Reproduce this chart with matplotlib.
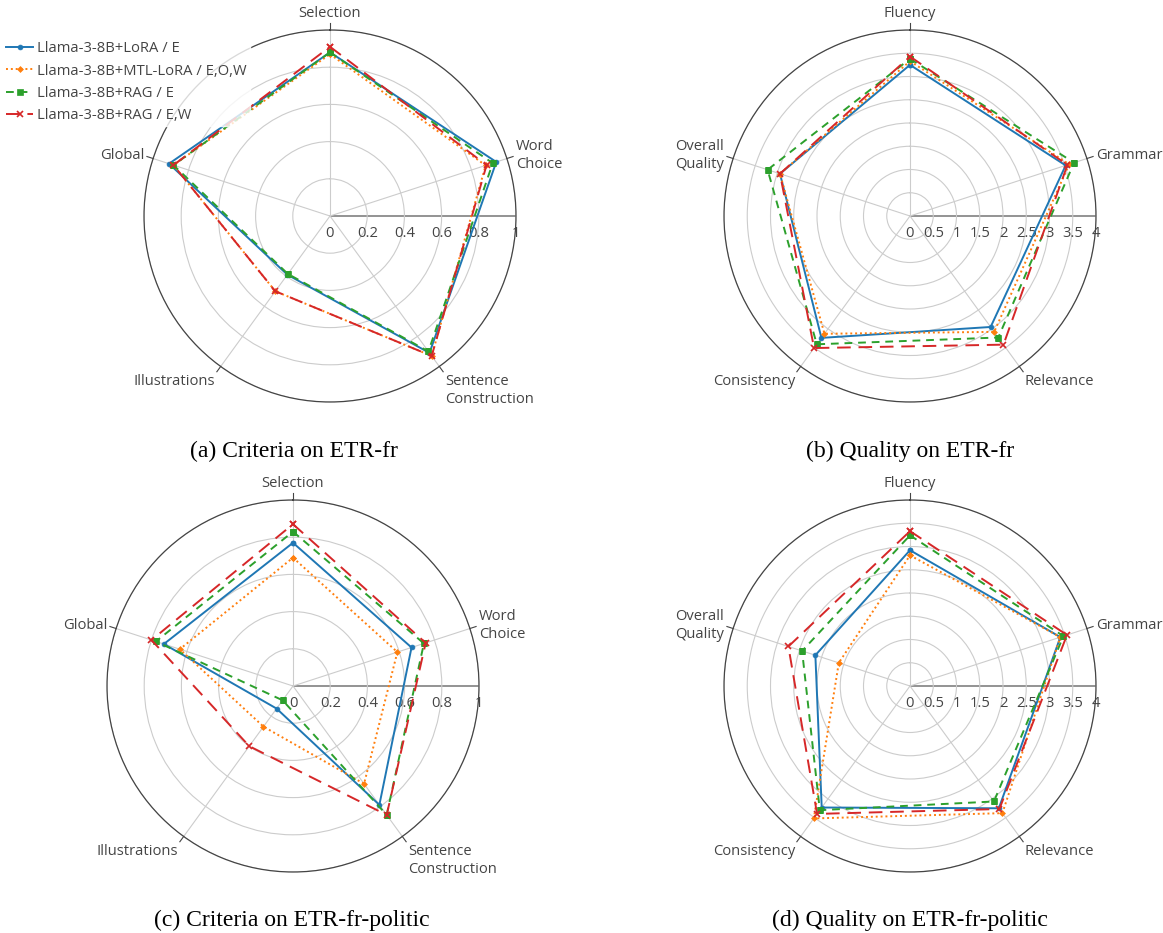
import numpy as np
import matplotlib.pyplot as plt

plt.rcParams['font.family'] = ['Open Sans', 'DejaVu Sans']

# data
models = ['Llama-3-8B+LoRA / E', 'Llama-3-8B+MTL-LoRA / E,O,W',
          'Llama-3-8B+RAG / E', 'Llama-3-8B+RAG / E,W']
criteria = ['Selection', 'Word\nChoice', 'Sentence\nConstruction', 'Illustrations', 'Global']
quality = ['Fluency', 'Grammar', 'Relevance', 'Consistency', 'Overall\nQuality']

crit_fr = [
    [0.88, 0.94, 0.91, 0.39, 0.91],
    [0.87, 0.88, 0.93, 0.50, 0.885],
    [0.88, 0.92, 0.90, 0.385, 0.885],
    [0.91, 0.885, 0.93, 0.50, 0.885],
]
qual_fr = [
    [3.25, 3.52, 2.95, 3.24, 2.94],
    [3.33, 3.60, 3.08, 3.13, 2.94],
    [3.38, 3.71, 3.23, 3.41, 3.22],
    [3.43, 3.56, 3.42, 3.51, 2.94],
]
crit_pol = [
    [0.77, 0.67, 0.79, 0.15, 0.73],
    [0.69, 0.59, 0.65, 0.27, 0.64],
    [0.83, 0.74, 0.857, 0.095, 0.775],
    [0.87, 0.75, 0.857, 0.40, 0.80],
]
qual_pol = [
    [2.92, 3.40, 3.25, 3.23, 2.14],
    [2.81, 3.40, 3.38, 3.52, 1.61],
    [3.24, 3.47, 3.07, 3.30, 2.44],
    [3.33, 3.55, 3.27, 3.40, 2.75],
]
crit_ticks = ['0', '0.2', '0.4', '0.6', '0.8', '1']
qual_ticks = ['0', '0.5', '1', '1.5', '2', '2.5', '3', '3.5', '4']

colors = ['#1f77b4', '#ff7f0e', '#2ca02c', '#d62728']
styles = ['-', (0, (1, 1.5)), (0, (4, 3)), (0, (7, 4))]
markers = ['o', 'D', 's', 'x']
msizes = [3.5, 3, 4, 4.5]
txt_col = '#444444'
fsize = 10.6


def radar(ax, labels, series, ticks):
    n = len(labels)
    angles = np.arange(n) * 2 * np.pi / n
    rvals = [float(t) for t in ticks]
    rmax = rvals[-1]
    ax.set_theta_offset(np.pi / 2)
    ax.set_theta_direction(-1)
    ax.set_ylim(0, rmax)
    ax.set_xticks(angles)
    ax.set_xticklabels([])
    ax.set_yticks(rvals[1:])
    ax.set_yticklabels([])
    ax.tick_params(length=0)
    ax.grid(color='#cccccc', lw=0.8)
    ax.spines['polar'].set_color(txt_col)
    ax.spines['polar'].set_linewidth(0.9)

    # radial axis line pointing east
    ax.plot([np.pi / 2, np.pi / 2], [0, rmax], color='#8a8a8a', lw=1.3, zorder=1)
    for t, v in zip(ticks, rvals):
        ax.annotate(t, (np.pi / 2, v), xytext=(0, -7), textcoords='offset points',
                    ha='center', va='top', fontsize=fsize, color=txt_col)

    # category labels with small ticks outside the circle
    for a, lab in zip(angles, labels):
        ax.plot([a, a], [rmax, rmax * 1.035], color=txt_col, lw=0.8, clip_on=False)
        phi = np.pi / 2 - a
        c, s = np.cos(phi), np.sin(phi)
        ha = 'left' if c > 0.2 else ('right' if c < -0.2 else 'center')
        va = 'bottom' if s > 0.6 else ('top' if s < -0.6 else 'center')
        ax.text(a, rmax * 1.05, lab, ha=ha, va=va, multialignment=ha,
                fontsize=fsize, color=txt_col, linespacing=1.3)

    handles = []
    for vals, col, ls, mk, ms, name in zip(series, colors, styles, markers, msizes, models):
        th = np.append(angles, angles[0])
        rr = np.append(vals, vals[0])
        h, = ax.plot(th, rr, color=col, ls=ls, lw=1.4, marker=mk, ms=ms,
                     mew=1.2 if mk == 'x' else 0.5, label=name, zorder=3)
        handles.append(h)
    return handles


fig = plt.figure(figsize=(11.63, 9.33), dpi=100)
W, H = 1163, 933
R = 186
centers = [(330, 216), (910, 216), (293, 686), (910, 686)]
panels = [(criteria, crit_fr, crit_ticks), (quality, qual_fr, qual_ticks),
          (criteria, crit_pol, crit_ticks), (quality, qual_pol, qual_ticks)]

handles = None
for (cx, cy), (labs, data, tks) in zip(centers, panels):
    ax = fig.add_axes([(cx - R) / W, 1 - (cy + R) / H, 2 * R / W, 2 * R / H], polar=True)
    hs = radar(ax, labs, data, tks)
    if handles is None:
        handles = hs

captions = ['(a) Criteria on ETR-fr', '(b) Quality on ETR-fr',
            '(c) Criteria on ETR-fr-politic', '(d) Quality on ETR-fr-politic']
cap_pos = [(294, 451), (910, 451), (292, 920), (910, 920)]
for cap, (x, y) in zip(captions, cap_pos):
    fig.text(x / W, 1 - y / H, cap, ha='center', va='center',
             family='Liberation Serif', fontsize=17, color='black')

leg = fig.legend(handles=handles, loc='upper left', bbox_to_anchor=(0.003, 0.959),
                 frameon=True, fontsize=fsize, handlelength=1.8, handletextpad=0.3,
                 labelspacing=0.5, borderaxespad=0, borderpad=0.2)
leg.get_frame().set_facecolor('white')
leg.get_frame().set_edgecolor('white')
for t in leg.get_texts():
    t.set_color(txt_col)
leg.set_zorder(10)

fig.savefig('out.png', dpi=100)
